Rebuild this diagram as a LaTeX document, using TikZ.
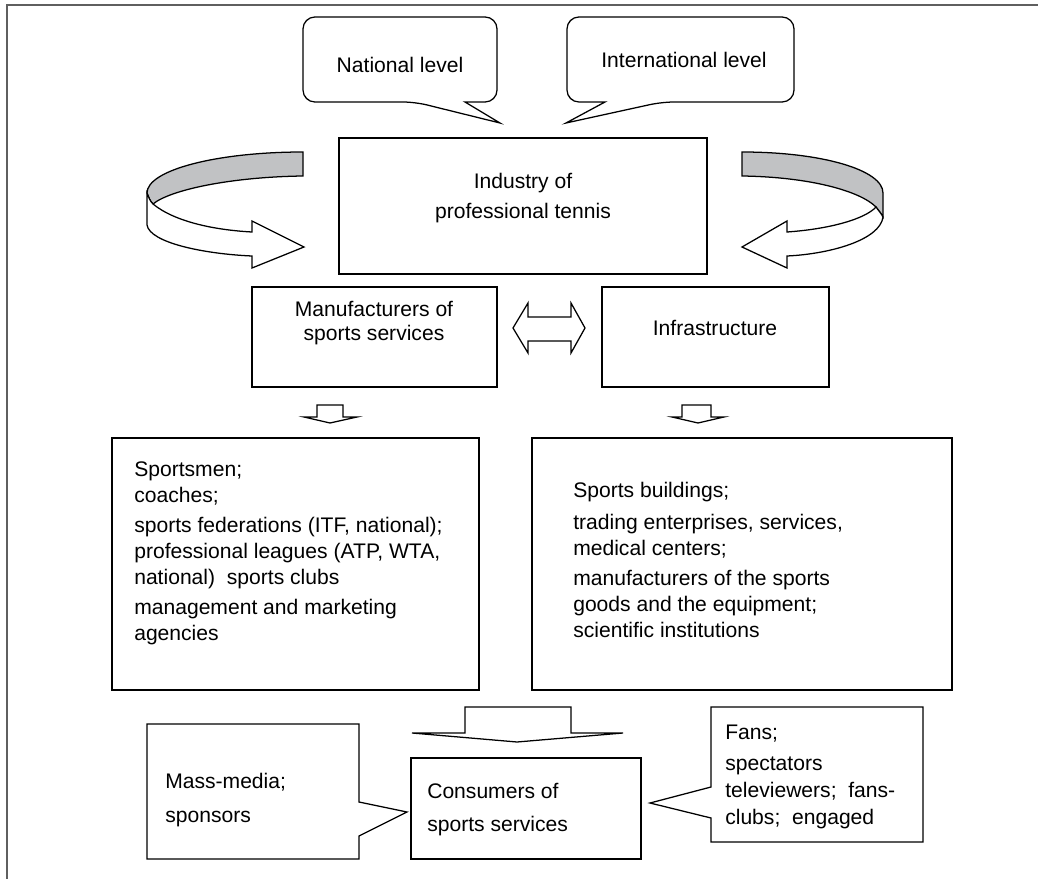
\documentclass[tikz,border=0pt]{standalone}
\usepackage{fontspec}
\setmainfont{Liberation Sans}
\definecolor{framegray}{RGB}{95,95,95}
\definecolor{bandgray}{RGB}{193,194,196}

\begin{document}
\begin{tikzpicture}[x=0.025cm,y=-0.025cm,
  font=\fontsize{15}{18.5}\selectfont,
  box/.style={draw,rectangle,line width=0.9pt,inner sep=0pt},
  bubble/.style={draw,line width=0.9pt,fill=white},
  blockarrow/.style={draw,line width=0.9pt,fill=white,line join=miter},
  txt/.style={inner sep=0pt,align=left,anchor=north west}]
  \useasboundingbox (0,0) rectangle (1038,879);

  % frame
  \draw[framegray,line width=1.1pt] (7,879) -- (7,5) -- (1038,5);

  % levels
  \draw[bubble] (465,102) [rounded corners=8.5pt] -- (497,102) -- (497,17) -- (303,17) -- (303,102) -- (415,102) [sharp corners] -- (500,123) -- cycle;
  \draw[bubble] (605,102) [rounded corners=8.5pt] -- (567,102) -- (567,17) -- (794,17) -- (794,102) -- (662,102) [sharp corners] -- (566,123) -- cycle;
  \node (national) at (400,65) {National level};
  \node (international) at (684,60) {International level};

  % industry
  \node[box,minimum width=9.2cm,minimum height=3.4cm] (industry) at (523,206) {};
  \node[align=center,font=\fontsize{15}{21.3}\selectfont] (industrytext) at (523,198) {Industry of\\professional tennis};

  % curved arrows
  \filldraw[blockarrow,fill=bandgray] (303,152) .. controls (217,152) and (147,170) .. (147,193)
    .. controls (149,198) and (150,201) .. (153,204) .. controls (170,190) and (230,177) .. (303,176) -- cycle;
  \draw[blockarrow] (147,193) -- (147,225) .. controls (150,243) and (205,254) .. (252,256)
    -- (252,268) -- (304,247) -- (252,221) -- (252,232) .. controls (215,230) and (175,222) .. (153,204)
    .. controls (150,201) and (149,198) .. (147,193) -- cycle;
  \filldraw[blockarrow,fill=bandgray] (742,152) .. controls (822,152) and (883,170) .. (883,193)
    -- (883,217) .. controls (881,213) and (878,210) .. (876,207) .. controls (860,191) and (810,177) .. (742,176) -- cycle;
  \draw[blockarrow] (883,217) .. controls (880,240) and (830,254) .. (787,256)
    -- (787,268) -- (742,247) -- (787,221) -- (787,232) .. controls (830,229) and (865,219) .. (876,207)
    .. controls (878,210) and (881,213) .. (883,217) -- cycle;

  % producers and infrastructure
  \node[box,minimum width=6.125cm,minimum height=2.5cm] (manuf) at (374.5,337) {};
  \node[align=center,font=\fontsize{15}{16.5}\selectfont] (manuftext) at (374,323) {Manufacturers of\\sports services};
  \node[box,minimum width=5.675cm,minimum height=2.5cm] (infra) at (715.5,337) {};
  \node (infratext) at (715,328) {Infrastructure};
  \draw[blockarrow] (513,328) -- (528,303) -- (528,317) -- (571,317) -- (571,303) -- (585,328)
    -- (571,353) -- (571,341) -- (528,341) -- (528,353) -- cycle;

  \draw[blockarrow] (317,405) -- (343,405) -- (343,417) -- (357,417) -- (330,423) -- (304,417) -- (317,417) -- cycle;
  \draw[blockarrow] (682,405) -- (711,405) -- (711,417) -- (724,417) -- (698,423) -- (672,417) -- (682,417) -- cycle;

  % lists
  \node[box,minimum width=9.175cm,minimum height=6.3cm] (players) at (295.5,564) {};
  \node[txt] (playerstext) at (134,461) {Sportsmen;\\coaches;\\[3pt]
    sports federations (ITF, national);\\professional leagues (ATP, WTA,\\national)\ \ sports clubs\\[3pt]
    management and marketing\\agencies};
  \node[box,minimum width=10.5cm,minimum height=6.3cm] (facilities) at (742,564) {};
  \node[txt] (facilitiestext) at (573,482) {Sports buildings;\\[4pt]trading enterprises, services,\\medical centers;\\[3pt]
    manufacturers of the sports\\goods and the equipment;\\scientific institutions};

  \draw[blockarrow] (465,707) -- (571,707) -- (571,733) -- (623,733) -- (517,742) -- (412,733) -- (465,733) -- cycle;

  % consumers
  \draw[bubble] (359,836) -- (359,859) -- (147,859) -- (147,724) -- (359,724) -- (359,802) -- (407,812) -- cycle;
  \node[txt,font=\fontsize{15}{24}\selectfont] (media) at (165,773) {Mass-media;\\sponsors};
  \node[box,minimum width=5.75cm,minimum height=2.525cm] (consumers) at (526,808.5) {};
  \node[txt,font=\fontsize{15}{23.5}\selectfont] (consumerstext) at (427,783) {Consumers of\\sports services};
  \draw[bubble] (711,787) -- (711,707) -- (923,707) -- (923,842) -- (711,842) -- (711,818) -- (650,803) -- cycle;
  \node[txt,font=\fontsize{15}{19.5}\selectfont] (fans) at (725,725) {Fans;\\[2pt]spectators\\televiewers;\ \ fans-\\clubs;\ \ engaged};
\end{tikzpicture}
\end{document}
